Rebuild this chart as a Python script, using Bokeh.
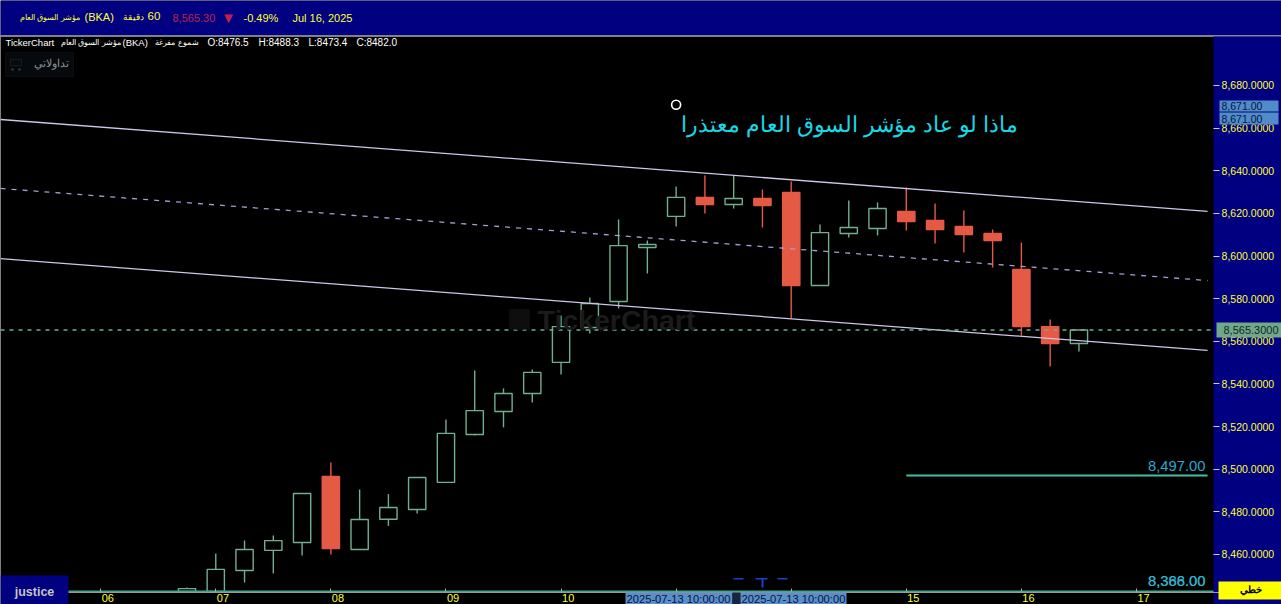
from bokeh.plotting import figure
from bokeh.models import (Label, BoxAnnotation, FixedTicker, NumeralTickFormatter, Range1d, ColumnDataSource)
from bokeh.embed import file_html
from bokeh.resources import INLINE

# ---------- data ----------
opens  = [8442.6,8442.6,8452.5,8461.9,8465.6,8496.6,8462.3,8476.5,8481.1,8493.8,8516.3,8527.1,8535.5,8550.1,8566.5,8578.7,
          8604.0,8618.6,8627.5,8624.2,8627.0,8629.8,8586.2,8610.6,8612.9,8620.9,8616.7,8613.9,8610.6,8593.7,8566.9,8559.0]
highs  = [8444.5,8460.5,8466.5,8468.9,8488.6,8503.1,8490.5,8488.3,8496.1,8523.3,8546.3,8537.9,8546.8,8572.1,8580.5,8617.1,
          8607.3,8632.6,8637.8,8637.8,8631.2,8635.0,8614.8,8626.1,8625.1,8632.1,8624.6,8621.4,8612.5,8606.3,8570.2,8565.3]
lows   = [8442.6,8442.6,8446.9,8451.1,8459.5,8460.0,8462.3,8473.4,8479.2,8493.8,8515.8,8519.6,8531.3,8544.4,8563.7,8575.4,
          8591.8,8613.9,8620.0,8622.3,8613.4,8570.7,8586.2,8608.7,8609.6,8612.0,8605.9,8601.7,8594.6,8562.7,8548.2,8555.2]
closes = [8444.0,8453.0,8462.3,8466.5,8488.6,8462.8,8476.4,8482.0,8496.1,8516.8,8527.5,8535.5,8545.4,8566.9,8577.7,8604.9,
          8605.4,8627.5,8624.2,8627.0,8623.7,8586.2,8611.0,8613.4,8622.3,8616.2,8612.4,8610.1,8607.3,8566.9,8559.0,8565.3]
bar_index = list(range(len(opens)))

day_ticks  = [-3, 1, 5, 9, 13, 17, 21, 25, 29, 33]
day_labels = ["06", "07", "08", "09", "10", "11", "12", "15", "16", "17"]
price_ticks = [8460, 8480, 8500, 8520, 8540, 8560, 8580, 8600, 8620, 8640, 8660, 8680]

channel_x      = [-6.48, 35.47]
channel_upper  = [8664.05, 8620.9]
channel_middle = [8631.7, 8588.5]
channel_lower  = [8598.8, 8555.7]
last_price = 8565.3
level_x = [25, 35.47]
level_y = [8497, 8497]
bottom_level_y = [8442.6, 8442.6]
marker_x, marker_y = [17], [8671]

# ---------- figure ----------
W, H = 1281, 604
GREEN, RED = "#6fb08f", "#e55a45"
NAVY = "#000080"
SANS = "Liberation Sans"
X_LEFT, X_AXIS, X_RIGHT = -6.482, 35.68, 38.04

p = figure(width=W, height=H, output_backend="svg", toolbar_location=None, y_axis_location="right",
           x_range=Range1d(X_LEFT, X_RIGHT), y_range=Range1d(8436.53, 8719.87),
           min_border=0, background_fill_color="black", border_fill_color="black", outline_line_color=None)
p.grid.visible = False

ya = p.yaxis[0]
ya.fixed_location = X_AXIS
ya.ticker = FixedTicker(ticks=price_ticks)
ya.formatter = NumeralTickFormatter(format="0,0.0000")
ya.major_label_text_color = "#ffff33"
ya.major_label_text_font = SANS
ya.major_label_text_font_size = "10.5px"
ya.major_label_standoff = 2
ya.major_tick_in = 0
ya.major_tick_out = 6
ya.major_tick_line_color = "#d0d0d0"
ya.minor_tick_line_color = None
ya.axis_line_color = None

xa = p.xaxis[0]
xa.fixed_location = 8442.1
xa.ticker = FixedTicker(ticks=day_ticks)
xa.major_label_overrides = {t: " " for t in day_ticks}
xa.major_label_text_font_size = "1px"
xa.major_label_standoff = 0
xa.major_tick_in = 4
xa.major_tick_out = 0
xa.major_tick_line_color = "#aaaaaa"
xa.minor_tick_line_color = None
xa.axis_line_color = "#999999"
xa.axis_line_width = 1

# ---------- screen-positioned pieces ----------
def box(l, t, r, b, fill, line=None, level="annotation"):
    p.add_layout(BoxAnnotation(left=l, right=r, top=H - t, bottom=H - b,
                               left_units="screen", right_units="screen", top_units="screen", bottom_units="screen",
                               fill_color=fill, fill_alpha=1 if fill else 0, line_color=line, level=level))

def txt(s, x, y, color, size=11, align="left", font=SANS, style="normal"):
    p.add_layout(Label(x=x, y=H - y, x_units="screen", y_units="screen", text=s, text_color=color,
                       text_font_size=f"{size}px", text_align=align, text_baseline="middle",
                       text_font=font, text_font_style=style, level="annotation"))

box(0, 0, W, 35, NAVY, level="underlay")
box(0, 35, W, 36, "white", level="underlay")
box(1213, 36, W, H, NAVY, level="underlay")

# ---------- candles ----------
colors = [RED if c < o else GREEN for o, c in zip(opens, closes)]
fills = [RED if c < o else "black" for o, c in zip(opens, closes)]
src = ColumnDataSource(dict(x=bar_index, o=opens, h=highs, l=lows, c=closes, color=colors, fill=fills,
                            top=[max(a, b) for a, b in zip(opens, closes)],
                            bottom=[min(a, b) for a, b in zip(opens, closes)]))
p.segment("x", "h", "x", "l", source=src, line_color="color", line_width=1.4)
p.vbar("x", width=0.6, top="top", bottom="bottom", source=src, fill_color="fill", line_color="color", line_width=1.4)

# ---------- channel and levels ----------
p.line(channel_x, channel_upper, line_color="#cfc6ea", line_width=1.3)
p.line(channel_x, channel_middle, line_color="#a99dd2", line_width=1.3, line_dash="5 6")
p.line(channel_x, channel_lower, line_color="#cfc6ea", line_width=1.3)
p.line([X_LEFT, X_AXIS], [last_price, last_price], line_color=GREEN, line_width=1.3, line_dash="4 5")
p.line(level_x, level_y, line_color="#3fc0a6", line_width=2)
p.line([X_LEFT, X_AXIS], bottom_level_y, line_color="#45a58f", line_width=2)
p.scatter(marker_x, marker_y, size=9, fill_color="black", line_color="white", line_width=1.6)

YEL = "#ffff33"
txt("مؤشر السوق العام", 79, 16, YEL, 8.3, "right")
txt("(BKA)", 84, 16.5, YEL, 11)
txt("دقيقة", 143, 16, YEL, 8.6, "right")
txt("60", 147, 15.5, YEL, 11.5)
txt("8,565.30", 172, 17, "#c0204f", 11)
txt("▼", 228, 17, "#c0204f", 15, "center")
txt("-0.49%", 243, 17, YEL, 11)
txt("Jul 16, 2025", 292, 17, YEL, 11)

txt("TickerChart", 5, 42, "white", 9.5)
txt("مؤشر السوق العام", 120, 42, "white", 7.9, "right")
txt("(BKA)", 122, 42, "white", 9.5)
txt("شموع مفرغة", 198, 42, "white", 8, "right")
txt("O:8476.5", 207, 42, "white", 10)
txt("H:8488.3", 258, 42, "white", 10)
txt("L:8473.4", 308, 42, "white", 10)
txt("C:8482.0", 356, 42, "white", 10)

box(5, 52, 73, 76, "#060a0c", "#1c2428")
txt("تداولاتي", 68, 62, "#8a9090", 11, "right")
# cart icon of the button
box(10, 59, 21, 65, None, "#3a4246")
box(11, 68, 13, 70, "#3a4246")
box(18, 68, 20, 70, "#3a4246")

txt("TickerChart", 537, 319, "#1b1b1b", 28.5, "left", SANS, "bold")
box(509, 309, 529, 329, "#0e0e0e", "#1b1b1b")

txt("ماذا لو عاد مؤشر السوق العام معتذرا", 1017, 124, "#19d9e6", 21.5, "right")

txt("8,497.00", 1205, 465, "#2aa6d2", 14.8, "right")
txt("8,366.00", 1205, 580, "#2aa6d2", 14.8, "right")
txt("8,388.00", 1205, 580, "#2fb4c8", 14.8, "right")

# price tags on the right scale
box(1219, 100, 1278, 111, "#4f8cc9", "#2a4f9a")
txt("8,671.00", 1221, 105.5, "#0a1440", 10.5)
box(1219, 112, 1278, 124, "#4f8cc9", "#2a4f9a")
txt("8,671.00", 1221, 118, "#0a1440", 10.5)
box(1216, 322, W, 337, "#6fa88a")
txt("8,565.3000", 1223, 329.5, "#10281e", 11)

# bottom strip
for t, lab in zip(day_ticks, day_labels):
    if lab not in ("11", "12"):
        x = 186.5 + 28.77 * t
        txt(lab, x + 1, 597.5, YEL, 11)
box(0, 575, 68, 604, NAVY)
txt("justice", 34, 591, "#c4c4c4", 12.5, "center", SANS, "bold")
box(625, 592, 732, 604, "#5b8fc8")
txt("2025-07-13 10:00:00", 626, 598, "#0a1440", 11.2)
box(732, 592, 740, 604, "#16263f")
box(740, 592, 846, 604, "#5b8fc8")
txt("2025-07-13 10:00:00", 741, 598, "#0a1440", 11.2)
for l, r in ((733, 743), (777, 787), (755, 767)):
    box(l, 577.5, r, 579, "#1c3fd0")
box(761, 578, 763, 587, "#1c3fd0")
box(1218, 581, W, 599, "#ffff00")
txt("خطي", 1250, 589, "black", 10, "center", SANS, "bold")

open("out.html", "w").write(file_html(p, INLINE))
